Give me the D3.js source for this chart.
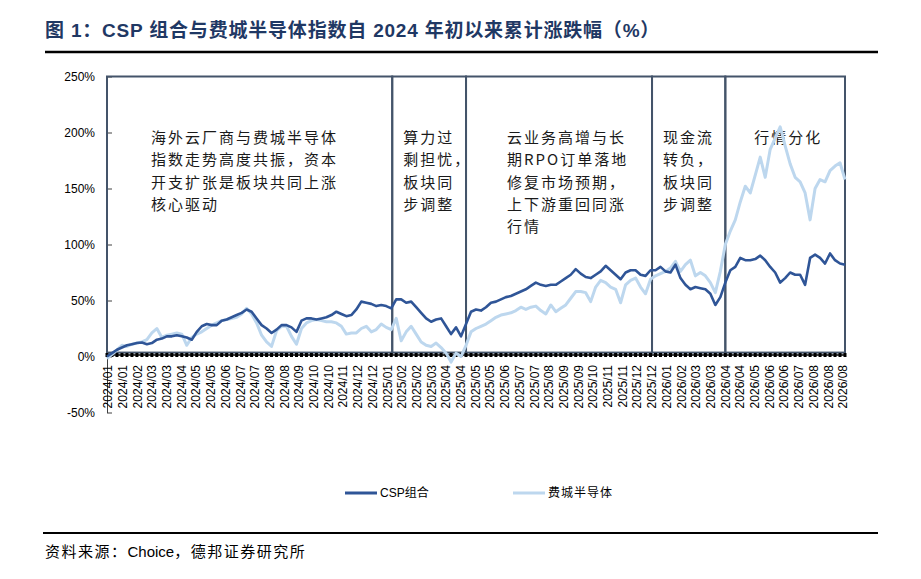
<!DOCTYPE html>
<html>
<head>
<meta charset="utf-8">
<script src="https://cdn.jsdelivr.net/npm/d3@7/dist/d3.min.js"></script>
<style>
  body { margin: 0; background: #fff; }
  svg { display: block; }
</style>
</head>
<body>
<svg id="chart"></svg>
<script>
// x axis labels (as printed on the chart)
const xLabels = [
  "2024/01", "2024/01", "2024/02", "2024/03", "2024/03", "2024/04", "2024/05", "2024/05", "2024/06", "2024/07",
  "2024/07", "2024/08", "2024/08", "2024/09", "2024/10", "2024/10", "2024/11", "2024/12", "2024/12", "2025/01",
  "2025/02", "2025/02", "2025/03", "2025/04", "2025/04", "2025/05", "2025/05", "2025/06", "2025/07", "2025/07",
  "2025/08", "2025/09", "2025/09", "2025/10", "2025/11", "2025/11", "2025/12", "2025/12", "2026/01", "2026/02",
  "2026/03", "2026/03", "2026/04", "2026/04", "2026/05", "2026/06", "2026/06", "2026/07", "2026/08", "2026/08",
  "2026/08"
];

// cumulative return, % (roughly weekly)
const cspValues = [
  0, 3, 6, 8, 10, 11, 12, 12.5, 11, 12,
  15, 16, 18, 18, 19, 18, 17, 15, 22, 27,
  29, 28, 28, 32, 33, 35, 37, 39, 42, 40,
  34, 28, 25, 21, 24, 28, 28, 26, 22, 32,
  34, 34, 33, 34, 35, 37, 40, 38, 36, 37,
  42, 49, 48, 47, 45, 46, 45, 43, 51, 51,
  48, 49, 44, 39, 34, 31, 33, 34, 27, 20,
  26, 18, 29, 40, 42, 41, 44, 48, 49, 51,
  53, 54, 56, 58, 60, 63, 66, 64, 63, 64,
  64, 67, 70, 73, 78, 74, 71, 70, 73, 76,
  81, 77, 73, 69, 75, 77, 77, 73, 72, 77,
  77, 80, 76, 75, 82, 70, 64, 60, 62, 61,
  60, 56, 46, 53, 66, 77, 80, 88, 86, 86,
  87, 90, 86, 80, 75, 66, 70, 75, 73, 73,
  64, 88, 91, 88, 83, 92, 86, 83, 82
];

const soxValues = [
  -2, 2, 6, 10, 9, 11, 12, 13, 15, 21,
  25, 17, 19, 20, 21, 20, 10, 17, 20, 22,
  25, 28, 30, 32, 33, 34, 35, 38, 43, 38,
  30, 19, 13, 9, 23, 27, 27, 18, 11, 25,
  30, 32, 33, 32, 31, 31, 30, 27, 20, 21,
  21, 25, 27, 22, 24, 29, 26, 24, 34, 14,
  22, 27, 20, 13, 10, 9, 12, 8, 3, -5,
  3, 0, 10, 22, 25, 27, 29, 32, 35, 37,
  38, 39, 41, 44, 42, 44, 45, 41, 38, 46,
  40, 43, 46, 52, 58, 58, 57, 49, 62, 68,
  66, 62, 60, 48, 64, 68, 70, 62, 56, 69,
  72, 74, 76, 79, 85, 76, 82, 86, 72, 75,
  72, 66, 57, 76, 100, 112, 122, 138, 152, 146,
  162, 178, 160, 185, 195, 205, 188, 172, 160, 156,
  146, 122, 150, 158, 156, 166, 170, 173, 158
];

const yTicks = [-50, 0, 50, 100, 150, 200, 250];

// phase boxes, in data-index units
const phaseBounds = [0, 57.2, 72, 109.3, 124, 148];
const phaseNotes = [
  ["海外云厂商与费城半导体", "指数走势高度共振，资本", "开支扩张是板块共同上涨", "核心驱动"],
  ["算力过", "剩担忧，", "板块同", "步调整"],
  ["云业务高增与长", "期RPO订单落地", "修复市场预期，", "上下游重回同涨", "行情"],
  ["现金流", "转负，", "板块同", "步调整"],
  ["行情分化"]
];
const noteOffsets = [44, 11, 41, 11, 29];

const seriesNames = ["CSP组合", "费城半导体"];

const svgWidth = 921, svgHeight = 579;
const darkBlue = "#2f5597", lightBlue = "#bdd7ee", boxColor = "#44546a";
const latin = "'Liberation Sans', Arial, 'Noto Sans CJK SC', sans-serif";
const cjk = "'Noto Sans CJK SC', sans-serif";

const svg = d3.select("#chart")
    .attr("width", svgWidth)
    .attr("height", svgHeight);

const x = d3.scaleLinear().domain([0, cspValues.length - 1]).range([107, 845]);
const xl = d3.scalePoint().domain(d3.range(xLabels.length)).range([108, 843]);
const y = d3.scaleLinear().domain([-50, 250]).range([412.5, 76.5]);

// title + rules
svg.append("text")
    .attr("x", 45).attr("y", 37)
    .attr("font-family", latin)
    .attr("font-size", 19)
    .attr("letter-spacing", 0.8)
    .attr("font-weight", "bold")
    .attr("fill", "#1f3864")
    .text("图 1：CSP 组合与费城半导体指数自 2024 年初以来累计涨跌幅（%）");

svg.append("line")
    .attr("x1", 45).attr("x2", 878).attr("y1", 52).attr("y2", 52)
    .attr("stroke", "#000").attr("stroke-width", 2.5);

svg.append("line")
    .attr("x1", 43).attr("x2", 878).attr("y1", 533).attr("y2", 533)
    .attr("stroke", "#000").attr("stroke-width", 2);

const source = svg.append("text")
    .attr("x", 45).attr("y", 557)
    .attr("font-family", latin)
    .attr("font-size", 15)
    .attr("fill", "#000");
source.append("tspan").attr("letter-spacing", 1.5).text("资料来源：");
source.append("tspan").text("Choice");
source.append("tspan").attr("letter-spacing", 1.5).text("，德邦证券研究所");

// y axis
const yAxis = svg.append("g")
    .attr("transform", "translate(107,0)")
    .call(d3.axisLeft(y).tickValues(yTicks).tickSize(-5).tickSizeOuter(0)
        .tickPadding(12).tickFormat(d => d + "%"));
yAxis.selectAll("path, line").attr("stroke", "#404040");
yAxis.selectAll("text")
    .attr("font-family", latin)
    .attr("font-size", 12)
    .attr("fill", "#000");

// phase boxes
const boxes = svg.append("g");
boxes.selectAll("rect")
    .data(d3.range(phaseBounds.length - 1))
    .enter()
    .append("rect")
    .attr("x", i => x(phaseBounds[i]))
    .attr("width", i => x(phaseBounds[i + 1]) - x(phaseBounds[i]))
    .attr("y", y(250))
    .attr("height", y(3.5) - y(250))
    .attr("fill", "none")
    .attr("stroke", boxColor)
    .attr("stroke-width", 2);

// notes
phaseNotes.forEach(function (lines, i) {
    const t = svg.append("text")
        .attr("font-family", cjk)
        .attr("font-size", 15)
        .attr("letter-spacing", 2)
        .attr("fill", "#1a1a1a");
    lines.forEach(function (line, j) {
        t.append("tspan")
            .attr("x", x(phaseBounds[i]) + noteOffsets[i])
            .attr("y", 143 + j * 22.3)
            .text(line);
    });
});

// x axis: line, dense ticks, labels
const y0 = y(0);
svg.append("line")
    .attr("x1", x(0)).attr("x2", x(cspValues.length - 1))
    .attr("y1", y0 - 1.5).attr("y2", y0 - 1.5)
    .attr("stroke", "#000").attr("stroke-width", 1.5);

svg.append("g").selectAll("line")
    .data(d3.range(cspValues.length))
    .enter()
    .append("line")
    .attr("x1", i => x(i)).attr("x2", i => x(i))
    .attr("y1", y0 - 3.5).attr("y2", y0 + 0.5)
    .attr("stroke", "#000")
    .attr("stroke-width", 3);

svg.append("g").selectAll("text")
    .data(xLabels)
    .enter()
    .append("text")
    .attr("transform", (d, i) => "translate(" + xl(i) + ",365) rotate(-90)")
    .attr("dy", "0.35em")
    .attr("text-anchor", "end")
    .attr("font-family", latin)
    .attr("font-size", 12)
    .attr("fill", "#000")
    .text(d => d);

// series
const line = d3.line()
    .x((d, i) => x(i))
    .y(d => y(d));

svg.append("path")
    .datum(soxValues)
    .attr("d", line)
    .attr("fill", "none")
    .attr("stroke", lightBlue)
    .attr("stroke-width", 3)
    .attr("stroke-linejoin", "round");

svg.append("path")
    .datum(cspValues)
    .attr("d", line)
    .attr("fill", "none")
    .attr("stroke", darkBlue)
    .attr("stroke-width", 2.6)
    .attr("stroke-linejoin", "round");

// legend
const legend = svg.append("g");
const legendX = [345, 513];
const legendColors = [darkBlue, lightBlue];
seriesNames.forEach(function (name, i) {
    legend.append("line")
        .attr("x1", legendX[i]).attr("x2", legendX[i] + 32)
        .attr("y1", 493).attr("y2", 493)
        .attr("stroke", legendColors[i])
        .attr("stroke-width", 3);
    legend.append("text")
        .attr("x", legendX[i] + 35).attr("y", 497)
        .attr("font-family", latin)
        .attr("font-size", 12)
        .attr("letter-spacing", i === 1 ? 1 : 0)
        .attr("fill", "#000")
        .text(name);
});
</script>
</body>
</html>
